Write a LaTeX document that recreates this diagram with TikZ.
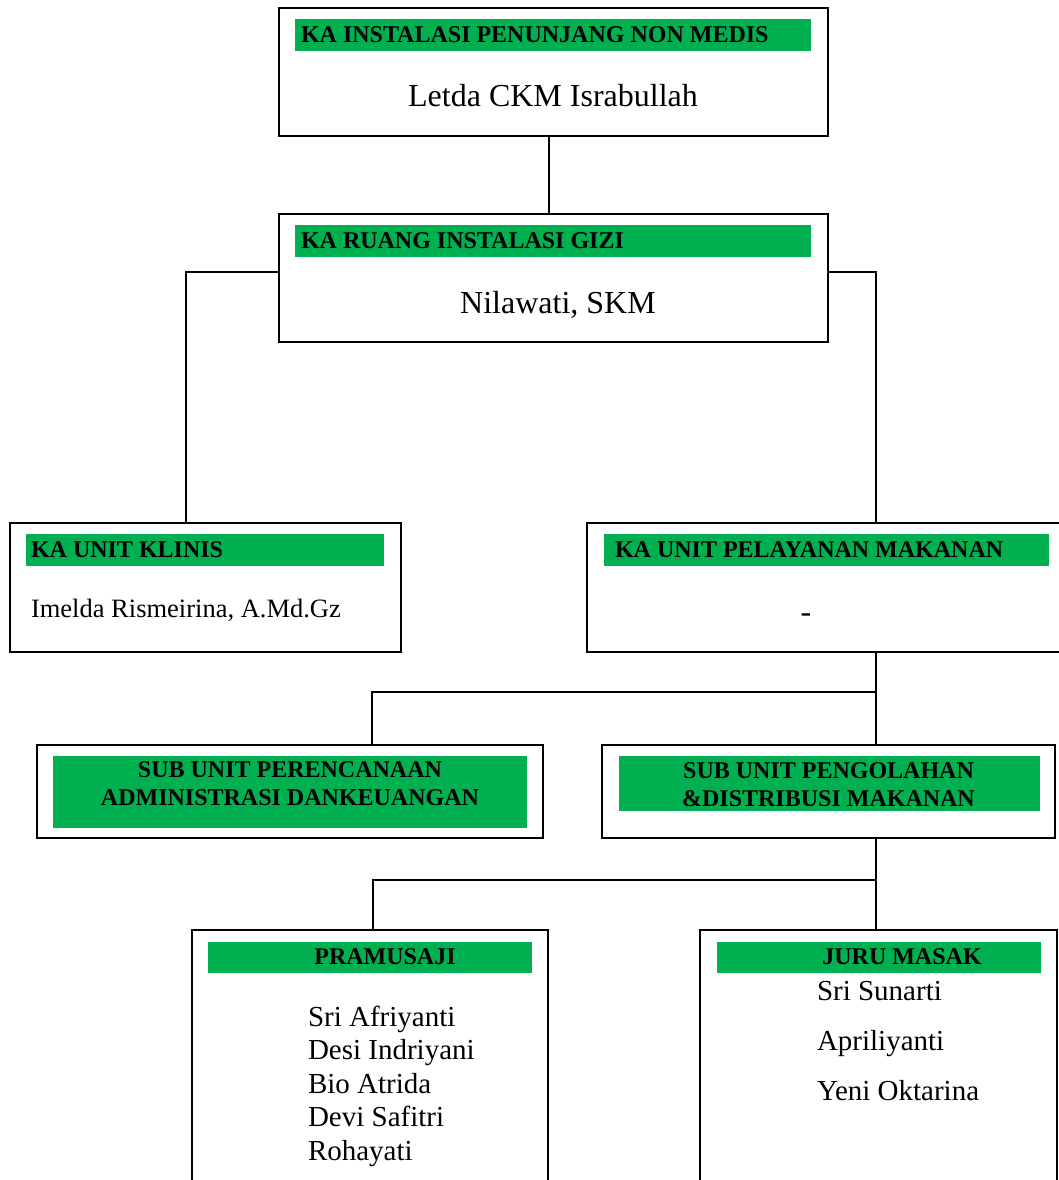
\documentclass[tikz,border=0pt]{standalone}
\usepackage{fontspec}
\setmainfont{Liberation Serif}
\usepackage{tikz}
\usetikzlibrary{calc,positioning}
\definecolor{bargreen}{RGB}{0,176,80}
\tikzset{
	every node/.style={inner sep=0pt, outer sep=0pt},
	orgbox/.style={rectangle, draw=black, line width=1.8pt},
	greenbar/.style={rectangle, fill=bargreen},
	headtext/.style={font=\bfseries\fontsize{24}{28}\selectfont},
	nametext/.style={font=\fontsize{29}{33.5}\selectfont},
	bignametext/.style={font=\fontsize{32}{36}\selectfont}
}

\begin{document}
\begin{tikzpicture}[x=1pt, y=-1pt, line width=1.4pt]
	\useasboundingbox (0,0) rectangle (1059,1180);
	\clip (0,0) rectangle (1059,1180);

	% Level 1
	\node[orgbox, minimum width=549pt, minimum height=128pt] (1) at (553.5,72) {};
	\node[greenbar, minimum width=516pt, minimum height=32pt] (1a) at (553,35) {};
	\node[headtext, anchor=west] (1b) at (301,35) {KA INSTALASI PENUNJANG NON MEDIS};
	\node[bignametext, anchor=base] (1c) at (553,107) {Letda CKM Israbullah};

	% Level 2
	\node[orgbox, minimum width=549pt, minimum height=128pt] (2) at (553.5,278) {};
	\node[greenbar, minimum width=516pt, minimum height=32pt] (2a) at (553,241) {};
	\node[headtext, anchor=west] (2b) at (301,241) {KA RUANG INSTALASI GIZI};
	\node[bignametext, anchor=base] (2c) at (558,313) {Nilawati, SKM};

	% Level 3
	\node[orgbox, minimum width=391pt, minimum height=129pt] (3) at (205.5,587.5) {};
	\node[greenbar, minimum width=358pt, minimum height=32pt] (3a) at (205,550) {};
	\node[headtext, anchor=west] (3b) at (31,550) {KA UNIT KLINIS};
	\node[font=\fontsize{26.5}{30}\selectfont, anchor=base west] (3c) at (31,617) {Imelda Rismeirina, A.Md.Gz};

	\node[orgbox, minimum width=578pt, minimum height=129pt] (4) at (876,587.5) {};
	\node[greenbar, minimum width=445pt, minimum height=32pt] (4a) at (826.5,550) {};
	\node[headtext, anchor=west] (4b) at (615,550) {KA UNIT PELAYANAN MAKANAN};
	\node[bignametext, anchor=base] (4c) at (806,622) {-};

	% Level 4
	\node[orgbox, minimum width=506pt, minimum height=93pt] (5) at (290,791.5) {};
	\node[greenbar, minimum width=474pt, minimum height=72pt] (5a) at (290,792) {};
	\node[headtext, align=center] (5b) at (290,784) {SUB UNIT PERENCANAAN\\ADMINISTRASI DANKEUANGAN};

	\node[orgbox, minimum width=453pt, minimum height=93pt] (6) at (828.5,791.5) {};
	\node[greenbar, minimum width=421pt, minimum height=55pt] (6a) at (829.5,783.5) {};
	\node[headtext, align=center] (6b) at (828.5,785) {SUB UNIT PENGOLAHAN\\\&DISTRIBUSI MAKANAN};

	% Level 5
	\node[orgbox, minimum width=356pt, minimum height=270pt] (7) at (370,1065) {};
	\node[greenbar, minimum width=324pt, minimum height=31pt] (7a) at (370,957) {};
	\node[headtext] (7b) at (385,957) {PRAMUSAJI};
	\node[nametext, anchor=base west] (7c) at (308,1026) {Sri Afriyanti};
	\node[nametext, anchor=base west] (7d) at (308,1059.5) {Desi Indriyani};
	\node[nametext, anchor=base west] (7e) at (308,1093) {Bio Atrida};
	\node[nametext, anchor=base west] (7f) at (308,1126.5) {Devi Safitri};
	\node[nametext, anchor=base west] (7g) at (308,1160) {Rohayati};

	\node[orgbox, minimum width=357pt, minimum height=270pt] (8) at (878.5,1065) {};
	\node[greenbar, minimum width=324pt, minimum height=31pt] (8a) at (879,957) {};
	\node[headtext] (8b) at (902,957) {JURU MASAK};
	\node[nametext, anchor=base west] (8c) at (817,1000) {Sri Sunarti};
	\node[nametext, anchor=base west] (8d) at (817,1050) {Apriliyanti};
	\node[nametext, anchor=base west] (8e) at (817,1100) {Yeni Oktarina};

	\coordinate (j1) at (876,692);
	\coordinate (j2) at (876,880);

	% Connectors
	\draw ([xshift=-4.5pt]1.south) -- ([xshift=-4.5pt]2.north);
	\draw ([yshift=6pt]2.west) -| ([xshift=-19.5pt]3.north);
	\draw ([yshift=6pt]2.east) -| (4.north);

	\draw (4.south) -- (4.south |- 6.north);
	\draw (j1) -| ([xshift=2pt]7.north |- 5.north);

	\draw (4.south |- 6.south) -- (4.south |- 8.north);
	\draw (j2) -| ([xshift=3pt]7.north);
\end{tikzpicture}
\end{document}
